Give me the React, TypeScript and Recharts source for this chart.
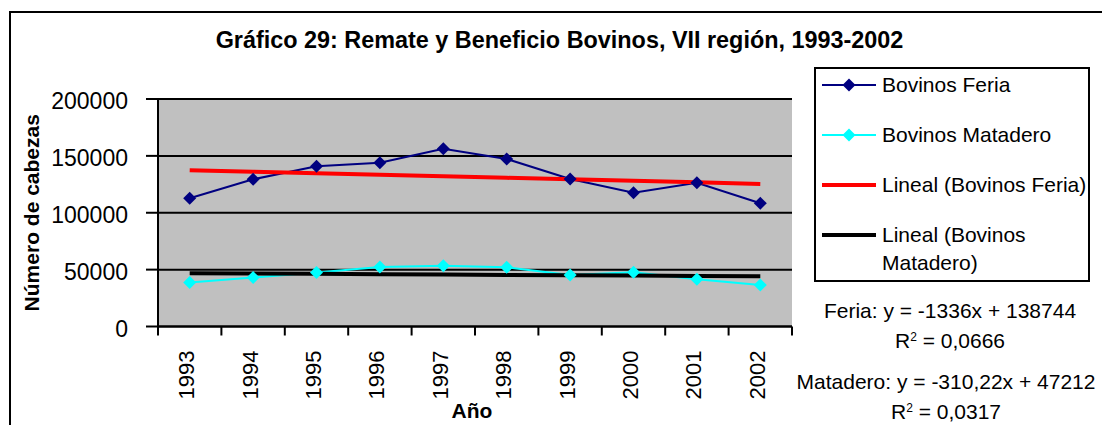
import React from "react";
import { LineChart, Line, XAxis, YAxis, CartesianGrid, Label } from "recharts";

const years = ["1993", "1994", "1995", "1996", "1997", "1998", "1999", "2000", "2001", "2002"];
const feria = [112700, 129400, 140800, 144000, 156300, 147300, 129700, 117600, 126400, 108300];
const matadero = [38600, 43000, 47400, 52400, 53500, 52100, 45300, 47700, 41500, 36500];
// Lineal: y = -1336x + 138744 ; y = -310,22x + 47212
const feriaTrend = [137408, 136072, 134736, 133400, 132064, 130728, 129392, 128056, 126720, 125384];
const mataderoTrend = [46902, 46592, 46281, 45971, 45661, 45351, 45040, 44730, 44420, 44110];
const yTicks = [0, 50000, 100000, 150000, 200000];

const seriesNames = ["Bovinos Feria", "Bovinos Matadero", "Lineal (Bovinos Feria)", "Lineal (Bovinos Matadero)"];
const seriesColors = ["#000080", "#00ffff", "#ff0000", "#000000"];

const data = years.map((year, i) => ({
  year,
  feria: feria[i],
  matadero: matadero[i],
  feriaTrend: feriaTrend[i],
  mataderoTrend: mataderoTrend[i],
}));

const FONT = "'Liberation Sans', Arial, sans-serif";
const W = 1102;
const H = 425;
const margin = { top: 99, right: 310, bottom: 0, left: 0 };
const yAxisWidth = 158;
const band = (W - margin.left - margin.right - yAxisWidth) / years.length;

const Diamond = (color: string) => (props: any) => {
  const { cx, cy } = props;
  if (cx == null || cy == null) return null;
  const r = 6.5;
  return (
    <polygon
      points={`${cx},${cy - r} ${cx + r},${cy} ${cx},${cy + r} ${cx - r},${cy}`}
      fill={color}
      stroke="none"
    />
  );
};

const YearTick = (props: any) => {
  const { x, y, payload, index } = props;
  return (
    <g>
      <line x1={x - band / 2} y1={y} x2={x - band / 2} y2={y + 9} stroke="#000" strokeWidth={2} />
      {index === years.length - 1 && (
        <line x1={x + band / 2} y1={y} x2={x + band / 2} y2={y + 9} stroke="#000" strokeWidth={2} />
      )}
      <text
        x={x - 3}
        y={y + 24}
        transform={`rotate(-90, ${x - 3}, ${y + 24})`}
        textAnchor="end"
        dominantBaseline="central"
        fontSize={22}
        fontFamily={FONT}
        fill="#000"
      >
        {payload.value}
      </text>
    </g>
  );
};

function LegendIcon({ index }: { index: number }) {
  const color = seriesColors[index];
  const trend = index >= 2;
  return (
    <svg width={54} height={14} style={{ display: "block" }}>
      <line x1={0} y1={7} x2={54} y2={7} stroke={color} strokeWidth={trend ? 4 : 2} />
      {!trend && <polygon points="27,0.5 33.5,7 27,13.5 20.5,7" fill={color} />}
    </svg>
  );
}

export default function App() {
  const legendRows = [85, 135, 185, 249];
  return (
    <div
      style={{
        position: "absolute",
        left: 0,
        top: 0,
        width: W,
        height: H,
        overflow: "hidden",
        background: "#fff",
        fontFamily: FONT,
      }}
    >
      <div
        style={{
          position: "absolute",
          left: 9,
          top: 11,
          width: W + 20,
          height: H + 20,
          border: "2px solid #000",
        }}
      />
      <div
        style={{
          position: "absolute",
          left: 0,
          top: 27,
          width: 1119,
          textAlign: "center",
          fontWeight: "bold",
          fontSize: 23.4,
          lineHeight: "27px",
          whiteSpace: "nowrap",
        }}
      >
        Gráfico 29: Remate y Beneficio Bovinos, VII región, 1993-2002
      </div>

      <div style={{ position: "absolute", left: 0, top: 0 }}>
        <LineChart width={W} height={H} data={data} margin={margin}>
          <CartesianGrid
            vertical={false}
            stroke="#000"
            strokeWidth={2}
            fill="#c0c0c0"
            fillOpacity={1}
          />
          <XAxis
            dataKey="year"
            interval={0}
            padding={{ left: band / 2, right: band / 2 }}
            tickLine={false}
            tickSize={0}
            tickMargin={0}
            height={H - margin.top - 227.5}
            axisLine={{ stroke: "#000", strokeWidth: 2 }}
            tick={<YearTick />}
          >
            <Label
              content={(p: any) => (
                <text
                  x={p.viewBox.x + p.viewBox.width / 2 - 3}
                  y={p.viewBox.y + 91}
                  textAnchor="middle"
                  fontSize={21}
                  fontWeight="bold"
                  fontFamily={FONT}
                  fill="#000"
                >
                  Año
                </text>
              )}
            />
          </XAxis>
          <YAxis
            width={yAxisWidth}
            domain={[0, 200000]}
            ticks={yTicks}
            interval={0}
            tickSize={12}
            tickMargin={18}
            axisLine={{ stroke: "#000", strokeWidth: 2 }}
            tickLine={{ stroke: "#000", strokeWidth: 2 }}
            tick={{ fontSize: 23, fontFamily: FONT, fill: "#000", dy: 2 }}
          >
            <Label
              content={(p: any) => {
                const cx = p.viewBox.x + 31;
                const cy = p.viewBox.y + p.viewBox.height / 2;
                return (
                  <text
                    x={cx}
                    y={cy}
                    transform={`rotate(-90, ${cx}, ${cy})`}
                    textAnchor="middle"
                    dominantBaseline="central"
                    fontSize={21}
                    fontWeight="bold"
                    fontFamily={FONT}
                    fill="#000"
                  >
                    Número de cabezas
                  </text>
                );
              }}
            />
          </YAxis>
          <Line
            dataKey="feria"
            name={seriesNames[0]}
            stroke={seriesColors[0]}
            strokeWidth={2}
            dot={Diamond(seriesColors[0])}
            isAnimationActive={false}
          />
          <Line
            dataKey="matadero"
            name={seriesNames[1]}
            stroke={seriesColors[1]}
            strokeWidth={2}
            dot={Diamond(seriesColors[1])}
            isAnimationActive={false}
          />
          <Line
            dataKey="feriaTrend"
            name={seriesNames[2]}
            stroke={seriesColors[2]}
            strokeWidth={4}
            dot={false}
            isAnimationActive={false}
          />
          <Line
            dataKey="mataderoTrend"
            name={seriesNames[3]}
            stroke={seriesColors[3]}
            strokeWidth={4}
            dot={false}
            isAnimationActive={false}
          />
        </LineChart>
      </div>

      <div
        style={{
          position: "absolute",
          left: 814,
          top: 67,
          width: 272,
          height: 211,
          border: "2px solid #000",
          background: "#fff",
        }}
      />
      {seriesNames.map((name, i) => (
        <div
          key={name}
          style={{
            position: "absolute",
            left: 822,
            top: legendRows[i],
            transform: "translateY(-50%)",
            display: "flex",
            alignItems: "center",
          }}
        >
          <div style={{ alignSelf: i === 3 ? "flex-start" : "center", marginTop: i === 3 ? 7 : 0 }}>
            <LegendIcon index={i} />
          </div>
          <div style={{ marginLeft: 6, fontSize: 21, lineHeight: "28px", width: i === 3 ? 190 : 240 }}>{name}</div>
        </div>
      ))}

      <div style={{ position: "absolute", left: 750, width: 400, top: 296, textAlign: "center", fontSize: 21, lineHeight: "30px" }}>
        <div>Feria: y = -1336x + 138744</div>
        <div>
          R<sup style={{ fontSize: 12, verticalAlign: "7px", lineHeight: 0 }}>2</sup> = 0,0666
        </div>
      </div>
      <div style={{ position: "absolute", left: 746, width: 400, top: 367, textAlign: "center", fontSize: 21, lineHeight: "30px" }}>
        <div>Matadero: y = -310,22x + 47212</div>
        <div>
          R<sup style={{ fontSize: 12, verticalAlign: "7px", lineHeight: 0 }}>2</sup> = 0,0317
        </div>
      </div>
    </div>
  );
}
